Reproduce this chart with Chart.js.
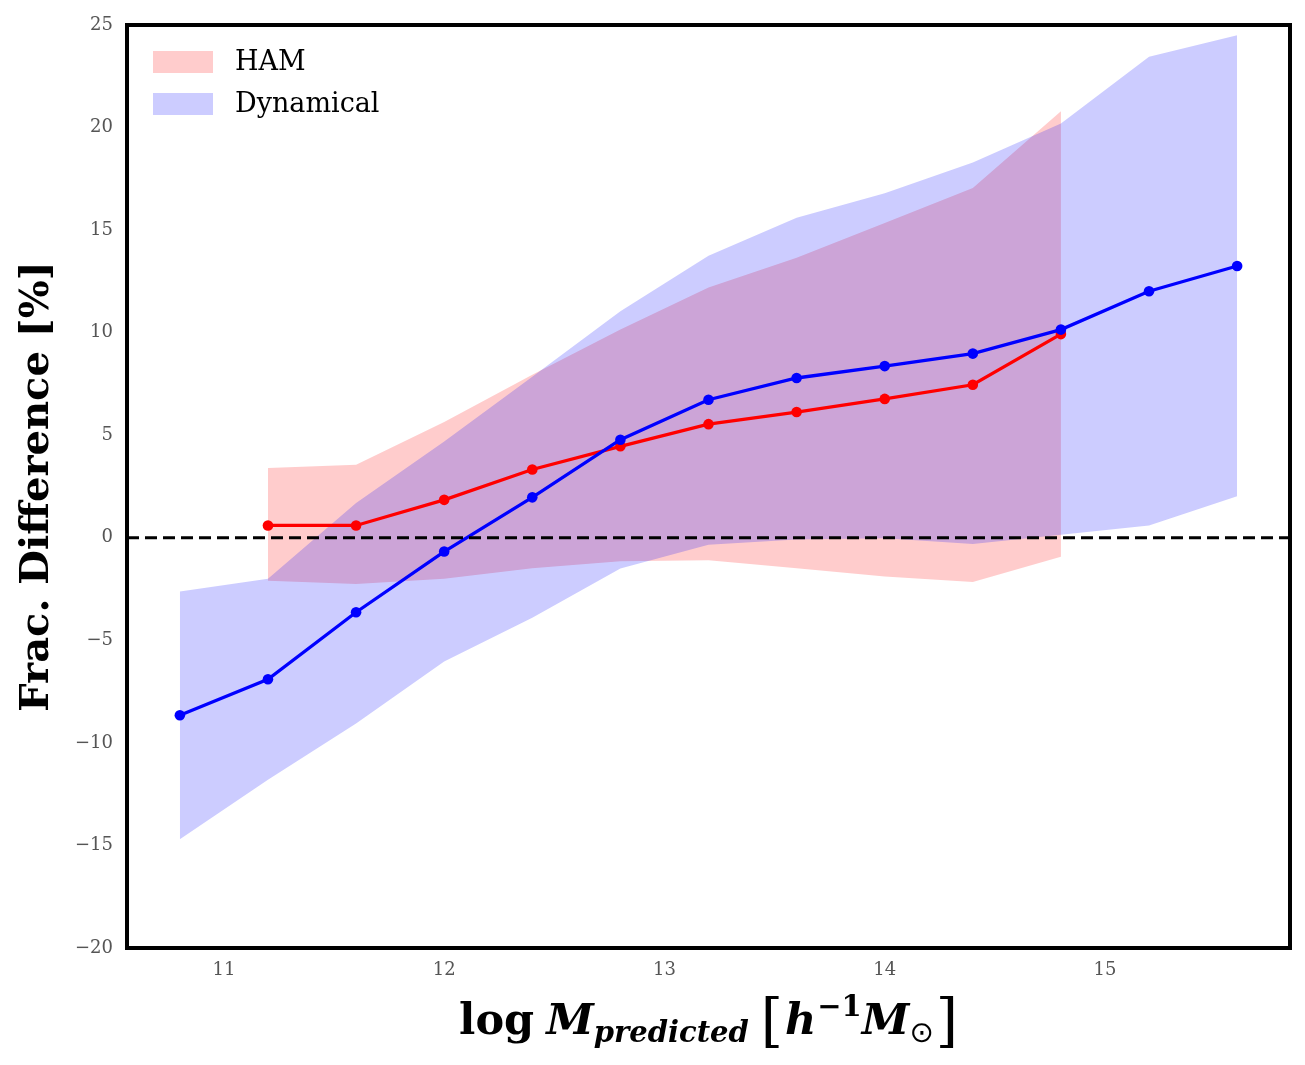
<!DOCTYPE html>
<html>
<head>
<meta charset="utf-8">
<script src="https://cdn.jsdelivr.net/npm/chart.js@4/dist/chart.umd.min.js"></script>
<style>
html,body{margin:0;padding:0;background:#fff;}
#wrap{width:1305px;height:1065px;position:relative;}
</style>
</head>
<body>
<div id="wrap"><canvas id="c" width="1305" height="1065"></canvas></div>
<script>
// ---- data ----
const massBins = [10.8, 11.2, 11.6, 12.0, 12.4, 12.8, 13.2, 13.6, 14.0, 14.4, 14.8, 15.2, 15.6];
const dynMedian = [-8.65, -6.9, -3.63, -0.67, 1.97, 4.78, 6.73, 7.79, 8.37, 8.98, 10.15, 12.02, 13.25];
const dynUpper  = [-2.62, -2.0, 1.7, 4.7, 7.85, 11.05, 13.75, 15.6, 16.8, 18.3, 20.2, 23.45, 24.5];
const dynLower  = [-14.7, -11.8, -9.05, -6.03, -3.9, -1.5, -0.34, -0.08, -0.02, -0.3, 0.15, 0.6, 2.02];

const hamBins   = [11.2, 11.6, 12.0, 12.4, 12.8, 13.2, 13.6, 14.0, 14.4, 14.8];
const hamMedian = [0.6, 0.6, 1.85, 3.33, 4.46, 5.54, 6.13, 6.77, 7.46, 9.93];
const hamUpper  = [3.4, 3.56, 5.65, 7.95, 10.15, 12.2, 13.65, 15.35, 17.05, 20.8];
const hamLower  = [-2.1, -2.25, -2.0, -1.48, -1.15, -1.1, -1.48, -1.89, -2.16, -0.92];

const seriesNames = ['HAM', 'Dynamical'];
const xTicks = [11, 12, 13, 14, 15];
const yTicks = [-20, -15, -10, -5, 0, 5, 10, 15, 20, 25];
const xRange = [10.56, 15.84];
const yRange = [-20, 25];
const refLineValue = 0;

const pts = (xs, ys) => xs.map((x, i) => ({x: x, y: ys[i]}));
const fmt = v => (v < 0 ? '\u2212' + Math.abs(v) : String(v));

const RED = '#ff0000', BLUE = '#0000ff';
const RED_FILL = 'rgba(255,0,0,0.2)', BLUE_FILL = 'rgba(0,0,255,0.2)';

Chart.defaults.font.family = 'DejaVu Serif';

const bandStyle = {borderWidth: 0, pointRadius: 0, pointHoverRadius: 0, tension: 0, borderColor: 'rgba(0,0,0,0)'};
const lineStyle = {borderWidth: 3.3, pointRadius: 5.3, pointHoverRadius: 5.3, pointBorderWidth: 0, tension: 0, fill: false};

const decorPlugin = {
  id: 'decor',
  afterDatasetsDraw(chart) {
    const ctx = chart.ctx, a = chart.chartArea;
    const y0 = chart.scales.y.getPixelForValue(refLineValue);
    ctx.save();
    ctx.strokeStyle = '#000';
    ctx.lineWidth = 3;
    ctx.setLineDash([12, 6]);
    ctx.beginPath();
    ctx.moveTo(a.left, y0);
    ctx.lineTo(a.right, y0);
    ctx.stroke();
    ctx.restore();
  },
  afterDraw(chart) {
    const ctx = chart.ctx, a = chart.chartArea;
    ctx.save();
    // frame
    ctx.strokeStyle = '#000';
    ctx.lineWidth = 4;
    ctx.strokeRect(a.left, a.top, a.right - a.left, a.bottom - a.top);
    // legend
    const fills = [RED_FILL, BLUE_FILL];
    ctx.font = '27px DejaVu Serif';
    ctx.textBaseline = 'middle';
    ctx.textAlign = 'left';
    seriesNames.forEach((name, i) => {
      const cy = 62 + i * 42;
      ctx.fillStyle = fills[i];
      ctx.fillRect(153, cy - 11, 60, 22);
      ctx.fillStyle = '#000';
      ctx.fillText(name, 235, cy + 1);
    });
    // x axis title
    const parts = [
      {t: 'log', f: 'bold 43px DejaVu Serif', dy: 0, gap: 12},
      {t: 'M', f: 'italic bold 43px DejaVu Serif', dy: 0, gap: 0},
      {t: 'predicted', f: 'italic bold 29px DejaVu Serif', dy: 8, gap: 12},
      {t: '[', f: '57px DejaVu Serif', dy: 6, gap: 2},
      {t: 'h', f: 'italic bold 43px DejaVu Serif', dy: 0, gap: 1},
      {t: '\u22121', f: 'bold 29px DejaVu Serif', dy: -18, gap: 0},
      {t: 'M', f: 'italic bold 43px DejaVu Serif', dy: 0, gap: 0},
      {t: '\u2299', f: '29px DejaVu Sans', dy: 8, gap: 2},
      {t: ']', f: '57px DejaVu Serif', dy: 6, gap: 0}
    ];
    let total = 0;
    parts.forEach(p => { ctx.font = p.f; p.w = ctx.measureText(p.t).width; total += p.w + p.gap; });
    let x = (a.left + a.right) / 2 - total / 2;
    const base = 1034;
    ctx.textBaseline = 'alphabetic';
    ctx.fillStyle = '#000';
    parts.forEach(p => { ctx.font = p.f; ctx.fillText(p.t, x, base + p.dy); x += p.w + p.gap; });
    ctx.restore();
  }
};

new Chart(document.getElementById('c'), {
  type: 'line',
  data: {
    datasets: [
      Object.assign({label: seriesNames[1], data: pts(massBins, dynMedian), borderColor: BLUE, backgroundColor: BLUE, pointBackgroundColor: BLUE}, lineStyle),
      Object.assign({label: seriesNames[0], data: pts(hamBins, hamMedian), borderColor: RED, backgroundColor: RED, pointBackgroundColor: RED}, lineStyle),
      Object.assign({label: 'dynUpper', data: pts(massBins, dynUpper), fill: '+1', backgroundColor: BLUE_FILL}, bandStyle),
      Object.assign({label: 'dynLower', data: pts(massBins, dynLower), fill: false}, bandStyle),
      Object.assign({label: 'hamUpper', data: pts(hamBins, hamUpper), fill: '+1', backgroundColor: RED_FILL}, bandStyle),
      Object.assign({label: 'hamLower', data: pts(hamBins, hamLower), fill: false}, bandStyle)
    ]
  },
  options: {
    responsive: false,
    devicePixelRatio: 1,
    animation: false,
    events: [],
    layout: {padding: {left: 0, top: 25, right: 15, bottom: 0}},
    plugins: {
      legend: {display: false},
      tooltip: {enabled: false},
      filler: {drawTime: 'beforeDatasetsDraw'}
    },
    scales: {
      x: {
        type: 'linear',
        min: xRange[0], max: xRange[1],
        grid: {display: false, drawTicks: false},
        border: {display: false},
        ticks: {font: {size: 18}, color: '#555', padding: 12, callback: v => fmt(v)},
        afterBuildTicks: s => { s.ticks = xTicks.map(v => ({value: v})); },
        afterFit: s => { s.height = 117; }
      },
      y: {
        type: 'linear',
        min: yRange[0], max: yRange[1],
        grid: {display: false, drawTicks: false},
        border: {display: false},
        ticks: {font: {size: 18}, color: '#555', padding: 14, callback: v => fmt(v)},
        afterBuildTicks: s => { s.ticks = yTicks.map(v => ({value: v})); },
        afterFit: s => { s.width = 127; },
        title: {display: true, text: 'Frac. Difference [%]', color: '#000', font: {size: 40, weight: 'bold'}, padding: {top: 14, bottom: 0}}
      }
    }
  },
  plugins: [decorPlugin]
});
</script>
</body>
</html>
